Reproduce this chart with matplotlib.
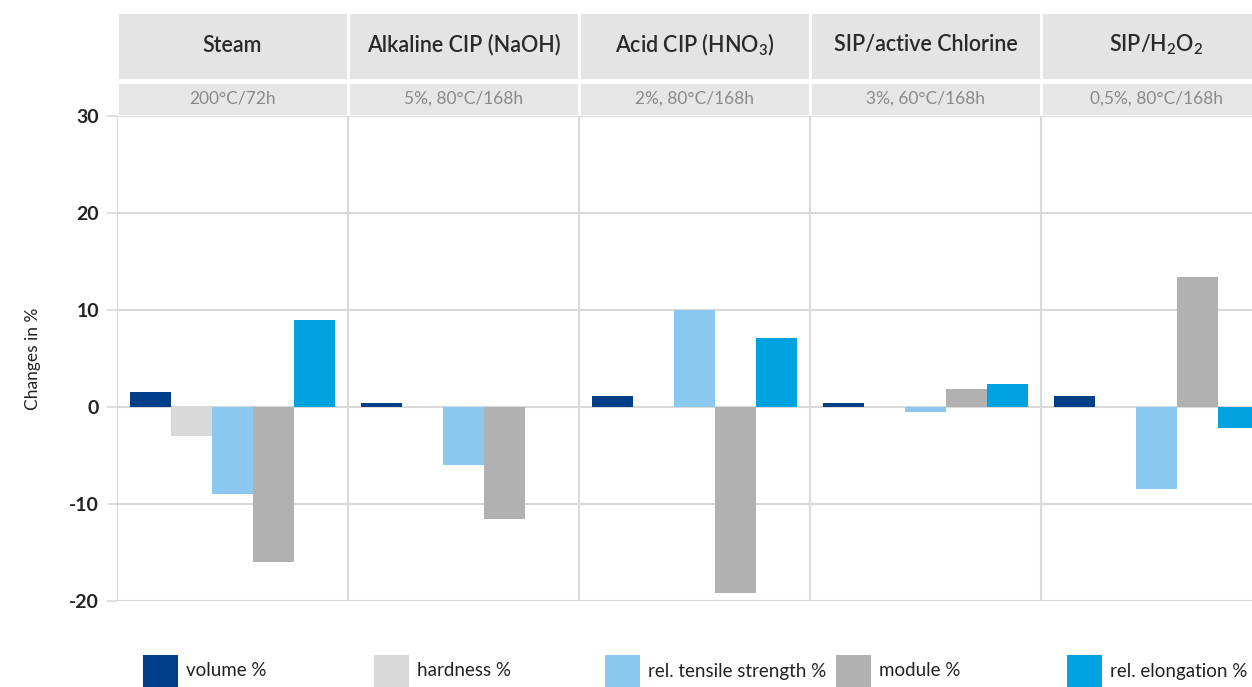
import matplotlib.pyplot as plt
import matplotlib.transforms as mtransforms
from matplotlib.patches import Rectangle

plt.rcParams["font.family"] = ["Lato", "DejaVu Sans"]
plt.rcParams["mathtext.fontset"] = "custom"
plt.rcParams["mathtext.rm"] = "Lato"
plt.rcParams["mathtext.bf"] = "Lato:bold"

categories = [
    "Steam",
    "Alkaline CIP (NaOH)",
    r"Acid CIP (HNO$_\mathregular{3}$)",
    "SIP/active Chlorine",
    r"SIP/H$_\mathregular{2}$O$_\mathregular{2}$",
]
conditions = ["200°C/72h", "5%, 80°C/168h", "2%, 80°C/168h", "3%, 60°C/168h", "0,5%, 80°C/168h"]
series = ["volume %", "hardness %", "rel. tensile strength %", "module %", "rel. elongation %"]
volume = [1.5, 0.4, 1.1, 0.4, 1.1]
hardness = [-3.0, 0.0, 0.0, 0.0, 0.0]
tensile = [-9.0, -6.0, 10.0, -0.5, -8.5]
module = [-16.0, -11.5, -19.2, 1.9, 13.4]
elongation = [9.0, 0.0, 7.1, 2.4, -2.2]
values = [volume, hardness, tensile, module, elongation]
colors = ["#003f87", "#d9d9d9", "#8ac8f0", "#b1b1b1", "#00a3e0"]
yticks = [-20, -10, 0, 10, 20, 30]

W, H = 1252, 687
fig = plt.figure(figsize=(W / 100, H / 100), dpi=100)
left, right, top, bottom = 117, 1272, 116, 601
ax = fig.add_axes([left / W, (H - bottom) / H, (right - left) / W, (bottom - top) / H])

n = len(categories)
bw = 41 / 231
off = 13 / 231
for j, vals in enumerate(values):
    xs = [i + off + bw * j + bw / 2 for i in range(n)]
    ax.bar(xs, vals, width=bw, color=colors[j], zorder=3)

ax.set_xlim(0, n)
ax.set_ylim(-20, 30)
ax.set_yticks(yticks)
ax.set_yticklabels([str(t) for t in yticks], fontsize=14, fontweight="bold", color="#222222")
ax.set_xticks([])
for t in yticks:
    ax.axhline(t, color="#d9d9d9", lw=1.5, zorder=1)
for i in range(n + 1):
    ax.axvline(i, color="#d9d9d9", lw=1.5, zorder=1)
for s in ax.spines.values():
    s.set_visible(False)
ax.tick_params(axis="y", length=7, width=1.2, color="#d9d9d9", pad=6)
ax.set_ylabel("Changes in %", fontsize=12.5, color="#222222", labelpad=20)

# header cells above the plot
hdr = fig.add_axes([left / W, (H - top) / H, (right - left) / W, (top - 12) / H])
hdr.set_xlim(0, n)
hdr.set_ylim(top, 12)
hdr.axis("off")
for i in range(n):
    hdr.add_patch(Rectangle((i, 12), 1, 68, facecolor="#e4e4e4", edgecolor="white", lw=2))
    hdr.add_patch(Rectangle((i, 82), 1, 34, facecolor="#e6e6e6", edgecolor="white", lw=2))
    hdr.text(i + 0.5, 45, categories[i], ha="center", va="center", fontsize=15.5,
             fontweight="semibold", color="#2a2a2a")
    hdr.text(i + 0.5, 99, conditions[i], ha="center", va="center", fontsize=12.5,
             color="#8a8a8a")

# legend spread across the groups
tr = mtransforms.blended_transform_factory(ax.transData, fig.transFigure)
for j, name in enumerate(series):
    x0 = j + 26 / 231
    fig.patches.append(Rectangle((x0, (H - 690) / H), 35 / 231, 35 / H, transform=tr,
                                 facecolor=colors[j], edgecolor="none"))
    fig.text(x0 + 43 / 231, (H - 671) / H, name, transform=tr, ha="left", va="center",
             fontsize=13.5, color="#222222")

fig.savefig("out.png", dpi=100)
